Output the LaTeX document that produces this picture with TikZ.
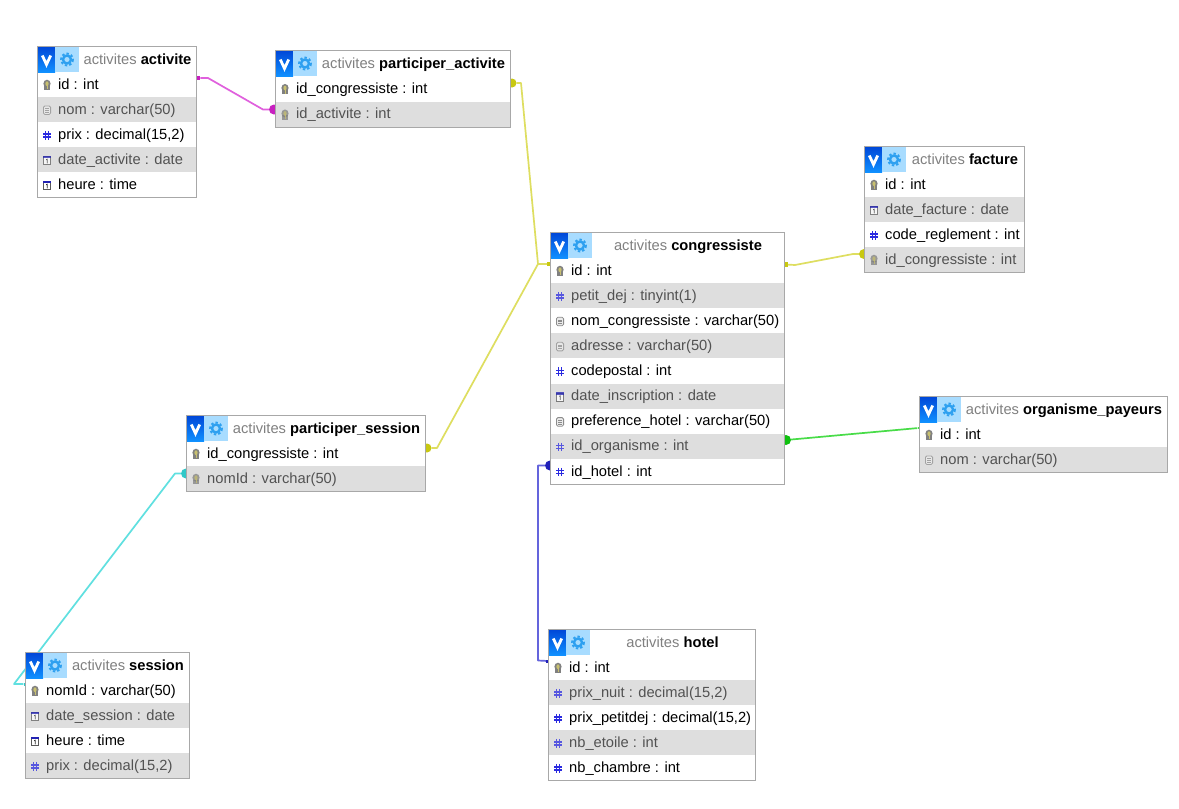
\documentclass[tikz,border=0pt]{standalone}
\usepackage{fontspec}
\setmainfont{Liberation Sans}
\definecolor{bord}{HTML}{A8A8A8}
\definecolor{rowg}{HTML}{DEDEDE}
\definecolor{mag}{HTML}{E060DD}
\definecolor{magd}{HTML}{C820C0}
\definecolor{yel}{HTML}{DEDE60}
\definecolor{yeld}{HTML}{C8C810}
\definecolor{grn}{HTML}{48DC48}
\definecolor{grnd}{HTML}{10C010}
\definecolor{blu}{HTML}{6464DC}
\definecolor{blud}{HTML}{2020B8}
\definecolor{cya}{HTML}{60E0E0}
\definecolor{cyad}{HTML}{30C8C8}
\definecolor{gearc}{HTML}{2EA0F0}
\definecolor{gearb}{HTML}{A8DCFF}
\definecolor{vtop}{HTML}{0048D8}
\definecolor{vbot}{HTML}{1090FF}
\definecolor{hash}{HTML}{2A2AE0}
\definecolor{keyc}{HTML}{C8C070}
\tikzset{
  x=1pt,y=-1pt,
  rowtext/.style={anchor=west,inner sep=0pt,font=\fontsize{14.7}{17}\selectfont,text height=11pt,text depth=3pt},
  titletext/.style={inner sep=0pt,font=\fontsize{14.7}{17}\selectfont,text height=11pt,text depth=3pt},
  tablebox/.style={draw=bord,line width=1pt},
  dotend/.style={circle,inner sep=0pt,minimum size=#1},
  sqend/.style={rectangle,inner sep=0pt,minimum size=4.5pt},
  link/.style={line width=1.7pt,line join=round},
}
% icons, centred on (#1,#2)
\newcommand\iconk[2]{%
  \fill[black!50] (#1-2.6,#2+1) rectangle (#1+2.6,#2+5.6);
  \fill[black!50] (#1,#2-.8) ellipse [x radius=3.6,y radius=4];
  \fill[keyc] (#1,#2-.8) ellipse [x radius=1.6,y radius=2.4];
  \draw[keyc,line width=.8pt] (#1,#2) -- (#1,#2+4.8);}
\newcommand\iconn[2]{%
  \draw[hash,line width=1.2pt] (#1-1.7,#2-3.6) -- (#1-1.7,#2+5) (#1+1.7,#2-3.6) -- (#1+1.7,#2+5)
     (#1-3.8,#2-.6) -- (#1+3.8,#2-.6) (#1-3.8,#2+2.4) -- (#1+3.8,#2+2.4);}
\newcommand\icons[2]{%
  \draw[black!45,fill=black!8,line width=.8pt,rounded corners=1.5pt] (#1-3.6,#2-3.6) rectangle (#1+3.6,#2+5);
  \draw[black!45,line width=.5pt] (#1-1.8,#2-1) -- (#1+1.8,#2-1) (#1-1.8,#2+.8) -- (#1+1.8,#2+.8) (#1-1.8,#2+2.6) -- (#1+1.8,#2+2.6);}
\newcommand\icond[2]{%
  \draw[black!65,fill=white,line width=.7pt] (#1-3.6,#2-3) rectangle (#1+3.6,#2+5);
  \fill[hash!80!black] (#1-3.6,#2-3.8) rectangle (#1+3.6,#2-1.4);
  \draw[black!80,line width=.8pt] (#1-.8,#2+.2) -- (#1+.3,#2-.3) -- (#1+.3,#2+3.8);}
% id, x1, y1, x2, y2, row count, title, rows (icon/text)
\newcommand\dbtable[8]{%
  \pgfmathsetmacro\rh{(#5-#3-26)/#6}
  \fill[white] (#2,#3) rectangle (#4,#5);
  \foreach \ic/\tx [count=\i from 0] in {#8}{
    \pgfmathsetmacro\ya{#3+26+\i*\rh}
    \pgfmathsetmacro\yb{\ya+\rh}
    \pgfmathsetmacro\yc{\ya+\rh/2}
    \pgfmathtruncatemacro\odd{mod(\i,2)}
    \ifnum\odd=1
      \fill[rowg] (#2,\ya) rectangle (#4,\yb);
      \begin{scope}[opacity=.75]\csname icon\ic\endcsname{#2+10}{\yc}\end{scope}
      \node[rowtext,text=black!68] (#1-r\i) at (#2+21,\yc+.6) {\tx};
    \else
      \csname icon\ic\endcsname{#2+10}{\yc}
      \node[rowtext,text=black] (#1-r\i) at (#2+21,\yc+.6) {\tx};
    \fi
  }
  % header icons
  \shade[top color=vtop,bottom color=vbot] (#2+1,#3+1) rectangle (#2+18,#3+26);
  \draw[white,line width=2.8pt,line join=miter] (#2+5.3,#3+9.5) -- (#2+9.5,#3+18.5) -- (#2+13.7,#3+9.5);
  \fill[gearb] (#2+18,#3+1) rectangle (#2+42,#3+26);
  \draw[gearc,line width=2.4pt] (#2+30,#3+13.5) circle [radius=4];
  \draw[gearc,line width=1.8pt,dash pattern=on 2.4pt off 2.2pt] (#2+30,#3+13.5) circle [radius=6];
  \node[titletext] (#1-title) at ({(#2+42+#4)/2},#3+14.5) {\textcolor{black!50}{activites} \textbf{#7}};
  \node[tablebox,fill=none,inner sep=0pt,minimum width=#4-#2-.5,minimum height=#5-#3-.5,anchor=north west] (#1) at (#2,#3) {};
}
\begin{document}
\begin{tikzpicture}
\useasboundingbox (0,0) rectangle (1179,809);
\fill[white] (0,0) rectangle (1179,809);

% connector ends
\node[sqend,fill=magd] (ma) at (198,78) {};
\node[dotend=10pt,fill=magd] (mb) at (274,109.5) {};
\node[dotend=9pt,fill=yeld] (ya) at (512,83) {};
\node[sqend,fill=yeld] (yb) at (549.5,264) {};
\node[dotend=9pt,fill=yeld] (yc) at (427,448) {};
\node[sqend,fill=yeld] (yd) at (785.5,264.5) {};
\node[dotend=10pt,fill=yeld] (ye) at (864,254) {};
\node[dotend=10pt,fill=grnd] (ga) at (786,440) {};
\node[sqend,fill=grn,minimum size=2pt] (gb) at (918.5,428) {};
\node[dotend=10pt,fill=blud] (ba) at (550,465.5) {};
\node[sqend,fill=blud,minimum size=3pt] (bb) at (547.5,661) {};
\node[dotend=10pt,fill=cyad] (ca) at (186,473.5) {};
\node[sqend,fill=cyad,minimum size=3pt] (cb) at (25,684) {};

\draw[link,mag] (ma) -- (208,78) -- (263,109.5) -- (mb);
\draw[link,yel] (ya) -- (521,83) -- (538,264) -- (yb);
\draw[link,yel] (yc) -- (437,448) -- (538,264);
\draw[link,yel] (yd) -- (795,265) -- (853,254) -- (ye);
\draw[link,grn] (ga) -- (gb);
\draw[link,blu] (ba) -- (538,465.5) -- (538,660.5) -- (bb);
\draw[link,cya] (ca) -- (175,473.5) -- (14,684) -- (cb);

\dbtable{activite}{37}{46}{196}{197}{5}{activite}{k/id : int,s/nom : varchar(50),n/{prix : decimal(15,2)},d/date\_activite : date,d/heure : time}
\dbtable{pa}{275}{50}{510}{127}{2}{participer\_activite}{k/id\_congressiste : int,k/id\_activite : int}
\dbtable{facture}{864}{146}{1024}{272}{4}{facture}{k/id : int,d/date\_facture : date,n/code\_reglement : int,k/id\_congressiste : int}
\dbtable{congressiste}{550}{232}{784}{484}{9}{congressiste}{k/id : int,n/petit\_dej : tinyint(1),s/nom\_congressiste : varchar(50),s/adresse : varchar(50),n/codepostal : int,d/date\_inscription : date,s/preference\_hotel : varchar(50),n/id\_organisme : int,n/id\_hotel : int}
\dbtable{op}{919}{396}{1167}{472}{2}{organisme\_payeurs}{k/id : int,s/nom : varchar(50)}
\dbtable{ps}{186}{415}{425}{491}{2}{participer\_session}{k/id\_congressiste : int,k/nomId : varchar(50)}
\dbtable{session}{25}{652}{189}{778}{4}{session}{k/nomId : varchar(50),d/date\_session : date,d/heure : time,n/{prix : decimal(15,2)}}
\dbtable{hotel}{548}{629}{755}{780}{5}{hotel}{k/id : int,n/{prix\_nuit : decimal(15,2)},n/{prix\_petitdej : decimal(15,2)},n/nb\_etoile : int,n/nb\_chambre : int}
\end{tikzpicture}
\end{document}
